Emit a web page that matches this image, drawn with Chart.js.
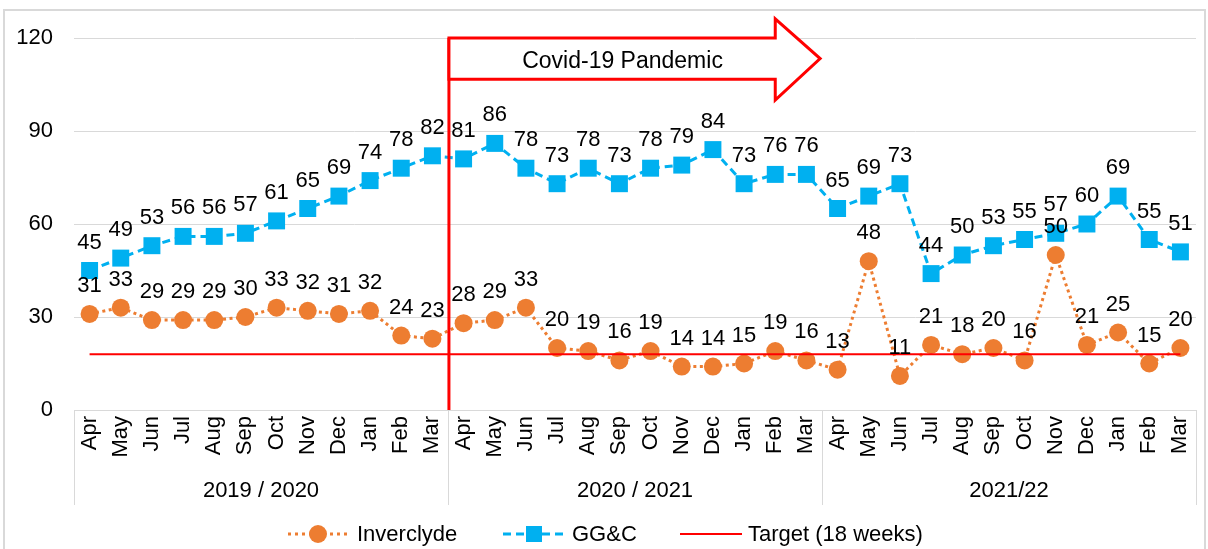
<!DOCTYPE html>
<html><head><meta charset="utf-8">
<script src="https://cdn.jsdelivr.net/npm/chart.js@4/dist/chart.umd.min.js"></script>
<style>html,body{margin:0;padding:0;background:#fff;}#wrap{position:relative;width:1208px;height:549px;}</style>
</head><body><div id="wrap"><canvas id="c" width="1208" height="549"></canvas></div>
<script>
const months = ['Apr','May','Jun','Jul','Aug','Sep','Oct','Nov','Dec','Jan','Feb','Mar'];
const categories = months.concat(months, months);
const groupLabels = ['2019 / 2020', '2020 / 2021', '2021/22'];
const yTicks = [0, 30, 60, 90, 120];
const inverclyde = [31,33,29,29,29,30,33,32,31,32,24,23, 28,29,33,20,19,16,19,14,14,15,19,16, 13,48,11,21,18,20,16,50,21,25,15,20];
const ggc = [45,49,53,56,56,57,61,65,69,74,78,82, 81,86,78,73,78,73,78,79,84,73,76,76, 65,69,73,44,50,53,55,57,60,69,55,51];
const target = [18,18,18,18,18,18,18,18,18,18,18,18, 18,18,18,18,18,18,18,18,18,18,18,18, 18,18,18,18,18,18,18,18,18,18,18,18];
const seriesNames = ['Inverclyde', 'GG&C', 'Target (18 weeks)'];
const covidLabel = 'Covid-19 Pandemic';

const FONT = '"Liberation Sans", Arial, sans-serif';
const ORANGE = '#ED7D31', BLUE = '#00B0F0', RED = '#FF0000', GRID = '#D9D9D9';

const overlay = {
  id: 'overlay',
  beforeDraw(chart) {
    const ctx = chart.ctx;
    ctx.save();
    ctx.fillStyle = '#fff';
    ctx.fillRect(0, 0, chart.width, chart.height);
    ctx.strokeStyle = GRID; ctx.lineWidth = 2;
    ctx.beginPath();
    ctx.moveTo(4, 549); ctx.lineTo(4, 10); ctx.lineTo(1205, 10); ctx.lineTo(1205, 549);
    ctx.stroke();
    ctx.restore();
  },
  afterDraw(chart) {
    const ctx = chart.ctx;
    const xs = chart.scales.x, ys = chart.scales.y;
    const area = chart.chartArea;
    ctx.save();
    // group dividers and labels
    ctx.strokeStyle = GRID; ctx.lineWidth = 1;
    const bounds = [-0.5, 11.5, 23.5, 35.5];
    bounds.forEach(b => {
      const px = Math.round(xs.getPixelForValue(b)) + 0.5;
      ctx.beginPath(); ctx.moveTo(px, area.bottom); ctx.lineTo(px, 505); ctx.stroke();
    });
    ctx.fillStyle = '#000';
    ctx.font = '22px ' + FONT;
    ctx.textAlign = 'center'; ctx.textBaseline = 'middle';
    groupLabels.forEach((g, i) => {
      const cx = (xs.getPixelForValue(bounds[i]) + xs.getPixelForValue(bounds[i + 1])) / 2;
      ctx.fillText(g, cx, 491);
    });

    // covid vertical line
    const vx = xs.getPixelForValue(11.53);
    ctx.strokeStyle = RED; ctx.lineWidth = 3;
    ctx.beginPath(); ctx.moveTo(vx, ys.getPixelForValue(120)); ctx.lineTo(vx, area.bottom); ctx.stroke();
    // arrow
    const hx = xs.getPixelForValue(22), tx = xs.getPixelForValue(23.44);
    const bt = ys.getPixelForValue(120), bb = ys.getPixelForValue(106.7);
    const ht = ys.getPixelForValue(126.2), hb = ys.getPixelForValue(100);
    const ty = (bt + bb) / 2;
    ctx.beginPath();
    ctx.moveTo(vx, bt); ctx.lineTo(hx, bt); ctx.lineTo(hx, ht); ctx.lineTo(tx, ty);
    ctx.lineTo(hx, hb); ctx.lineTo(hx, bb); ctx.lineTo(vx, bb); ctx.closePath();
    ctx.fillStyle = '#fff'; ctx.fill();
    ctx.lineJoin = 'miter'; ctx.stroke();
    ctx.fillStyle = '#000';
    ctx.font = '23px ' + FONT;
    ctx.fillText(covidLabel, xs.getPixelForValue(17.1), ty + 3);

    // data labels
    ctx.font = '22px ' + FONT;
    [0, 1].forEach(di => {
      const meta = chart.getDatasetMeta(di);
      const data = chart.data.datasets[di].data;
      meta.data.forEach((pt, i) => {
        ctx.fillText(String(data[i]), pt.x, pt.y - 28);
      });
    });

    // legend
    const ly = 534;
    ctx.textAlign = 'left';
    ctx.font = '22px ' + FONT;
    ctx.strokeStyle = ORANGE; ctx.lineWidth = 3; ctx.setLineDash([3, 4]);
    ctx.beginPath(); ctx.moveTo(288, ly); ctx.lineTo(350, ly); ctx.stroke();
    ctx.setLineDash([]);
    ctx.fillStyle = ORANGE; ctx.beginPath(); ctx.arc(318, ly, 9, 0, Math.PI * 2); ctx.fill();
    ctx.fillStyle = '#000'; ctx.fillText(seriesNames[0], 357, ly + 1);
    ctx.strokeStyle = BLUE; ctx.lineWidth = 3; ctx.setLineDash([8, 5]);
    ctx.beginPath(); ctx.moveTo(503, ly); ctx.lineTo(565, ly); ctx.stroke();
    ctx.setLineDash([]);
    ctx.fillStyle = BLUE; ctx.fillRect(534 - 8, ly - 8, 16, 16);
    ctx.fillStyle = '#000'; ctx.fillText(seriesNames[1], 572, ly + 1);
    ctx.strokeStyle = RED; ctx.lineWidth = 2;
    ctx.beginPath(); ctx.moveTo(680, ly); ctx.lineTo(742, ly); ctx.stroke();
    ctx.fillStyle = '#000'; ctx.fillText(seriesNames[2], 748, ly + 1);
    ctx.restore();
  }
};

new Chart(document.getElementById('c'), {
  type: 'line',
  data: {
    labels: categories,
    datasets: [
      { label: seriesNames[0], data: inverclyde, borderColor: ORANGE, backgroundColor: ORANGE,
        borderWidth: 3, borderDash: [3, 3.5], pointStyle: 'circle', pointRadius: 9, pointHoverRadius: 9,
        pointBorderWidth: 0, tension: 0, order: 1 },
      { label: seriesNames[1], data: ggc, borderColor: BLUE, backgroundColor: BLUE,
        borderWidth: 3, borderDash: [8, 5], pointStyle: 'rect', pointRadius: 12, pointHoverRadius: 12,
        pointBorderWidth: 0, tension: 0, order: 2 },
      { label: seriesNames[2], data: target, borderColor: RED, backgroundColor: RED,
        borderWidth: 2, pointRadius: 0, pointHoverRadius: 0, tension: 0, order: 0 }
    ]
  },
  options: {
    responsive: false,
    animation: false,
    devicePixelRatio: 1,
    layout: { padding: { left: 0, right: 9, top: 38, bottom: 0 } },
    plugins: { legend: { display: false }, tooltip: { enabled: false } },
    scales: {
      x: {
        offset: true,
        grid: { display: false, drawTicks: false },
        border: { display: true, color: GRID, width: 1 },
        ticks: { autoSkip: false, minRotation: 90, maxRotation: 90, padding: 6,
          color: '#000', font: { family: FONT, size: 22 } },
        afterFit(scale) { scale.height = 139; scale.paddingLeft = 0; scale.paddingRight = 0; }
      },
      y: {
        min: 0, max: 120,
        afterBuildTicks(scale) { scale.ticks = yTicks.map(v => ({ value: v })); },
        grid: { color: GRID, lineWidth: 1, drawTicks: false },
        border: { display: false },
        ticks: { padding: 21, color: '#000', font: { family: FONT, size: 22 } },
        afterFit(scale) { scale.width = 74; scale.paddingTop = 0; scale.paddingBottom = 0; }
      }
    }
  },
  plugins: [overlay]
});
</script></body></html>
